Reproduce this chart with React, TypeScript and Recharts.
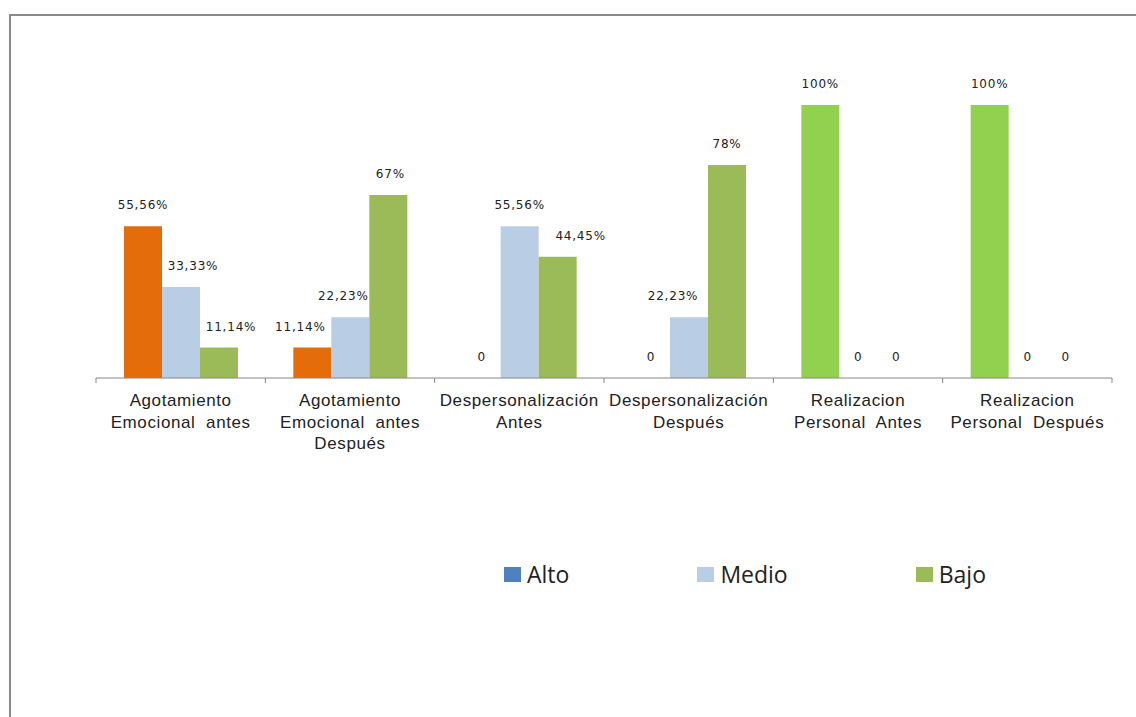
import React from "react";
import { BarChart, Bar, XAxis, YAxis, LabelList, Cell } from "recharts";

// categories (line breaks as in the original axis labels)
const categories = [
  "Agotamiento\nEmocional  antes",
  "Agotamiento\nEmocional  antes\nDespués",
  "Despersonalización\nAntes",
  "Despersonalización\nDespués",
  "Realizacion\nPersonal  Antes",
  "Realizacion\nPersonal  Después",
];
const alto = [55.56, 11.14, 0, 0, 100, 100];
const medio = [33.33, 22.23, 55.56, 22.23, 0, 0];
const bajo = [11.14, 67, 44.45, 78, 0, 0];
const seriesNames = ["Alto", "Medio", "Bajo"];

// hand-moved data labels in the original (horizontal nudge, px)
const nudgeAlto = [0, -12, 0, 0, 0, 0];
const nudgeMedio = [12, -7, 0, -16, 0, 0];
const nudgeBajo = [12, 2, 23, 0, 0, 0];

const W = 1136, H = 717;
const AXIS_H = 80;
const M = { top: 105, right: 24, bottom: 339 - AXIS_H, left: 96 };
const step = (W - M.left - M.right) / categories.length;

const ORANGE = "#E46C0A";
const LIME = "#92D050";
const BLUE_L = "#B9CDE5";
const GREEN = "#9BBB59";
const legendColors = ["#4F81BD", BLUE_L, GREEN];

const data = categories.map((c, i) => ({ cat: c, Alto: alto[i], Medio: medio[i], Bajo: bajo[i] }));

const fmt = (v: any) => (Number(v) === 0 ? "0" : String(v).replace(".", ",") + "%");

const CatTick = (props: any) => {
  const { x, y, payload } = props;
  const lines = String(payload.value).split("\n");
  const last = payload.index === categories.length - 1;
  return (
    <g>
      <line x1={x - step / 2} x2={x - step / 2} y1={y} y2={y + 5} stroke="#868686" />
      {last && <line x1={x + step / 2} x2={x + step / 2} y1={y} y2={y + 5} stroke="#868686" />}
      <text
        x={x}
        y={y}
        textAnchor="middle"
        fontFamily="'Liberation Sans', Arial, sans-serif"
        fontSize={17}
        fill="#222"
        style={{ whiteSpace: "pre", letterSpacing: 0.6 }}
      >
        {lines.map((l, i) => (
          <tspan key={i} x={x} dy={i === 0 ? 28 : 21.5}>{l}</tspan>
        ))}
      </text>
    </g>
  );
};

const makeLabel = (nudge: number[]) => (p: any) => {
  const { x, y, width, value, index } = p;
  return (
    <text
      x={Number(x) + Number(width) / 2 + (nudge[index] || 0)}
      y={Number(y) - 17}
      textAnchor="middle"
      fill="#222"
      fontSize={12}
      fontFamily="'DejaVu Sans', Verdana, sans-serif"
      style={{ letterSpacing: 0.8 }}
    >
      {fmt(value)}
    </text>
  );
};

export default function App() {
  return (
    <div style={{ position: "fixed", left: 0, top: 0, width: W, height: H, overflow: "hidden", background: "#fff" }}>
      <div
        style={{
          position: "absolute",
          left: 9,
          top: 14,
          width: 1300,
          height: 900,
          border: "2px solid #8a8a8a",
          boxSizing: "border-box",
        }}
      />
      <div style={{ position: "absolute", left: 0, top: 0 }}>
        <BarChart width={W} height={H} data={data} margin={M} barCategoryGap={28} barGap={0}>
          <YAxis hide domain={[0, 100]} />
          <XAxis
            dataKey="cat"
            height={AXIS_H}
            interval={0}
            tickLine={false}
            tickSize={0}
            tickMargin={0}
            axisLine={{ stroke: "#868686" }}
            tick={<CatTick />}
          />
          <Bar dataKey="Alto" fill={ORANGE} minPointSize={0.5} isAnimationActive={false}>
            {data.map((d, i) => (
              <Cell
                key={i}
                fill={d.cat.startsWith("Realizacion") ? LIME : ORANGE}
                fillOpacity={d.Alto === 0 ? 0 : 1}
              />
            ))}
            <LabelList dataKey="Alto" content={makeLabel(nudgeAlto)} />
          </Bar>
          <Bar dataKey="Medio" fill={BLUE_L} minPointSize={0.5} isAnimationActive={false}>
            {data.map((d, i) => (
              <Cell key={i} fill={BLUE_L} fillOpacity={d.Medio === 0 ? 0 : 1} />
            ))}
            <LabelList dataKey="Medio" content={makeLabel(nudgeMedio)} />
          </Bar>
          <Bar dataKey="Bajo" fill={GREEN} minPointSize={0.5} isAnimationActive={false}>
            {data.map((d, i) => (
              <Cell key={i} fill={GREEN} fillOpacity={d.Bajo === 0 ? 0 : 1} />
            ))}
            <LabelList dataKey="Bajo" content={makeLabel(nudgeBajo)} />
          </Bar>
        </BarChart>
      </div>
      <div
        style={{
          position: "absolute",
          left: 504,
          top: 563,
          display: "flex",
          alignItems: "center",
          gap: 128,
          fontFamily: "'Open Sans', sans-serif",
          fontSize: 23,
          lineHeight: "23px",
          color: "#222",
        }}
      >
        {seriesNames.map((n, i) => (
          <div key={n} style={{ display: "flex", alignItems: "center" }}>
            <span style={{ display: "inline-block", width: 17, height: 15, background: legendColors[i], marginRight: 6 }} />
            <span>{n}</span>
          </div>
        ))}
      </div>
    </div>
  );
}
